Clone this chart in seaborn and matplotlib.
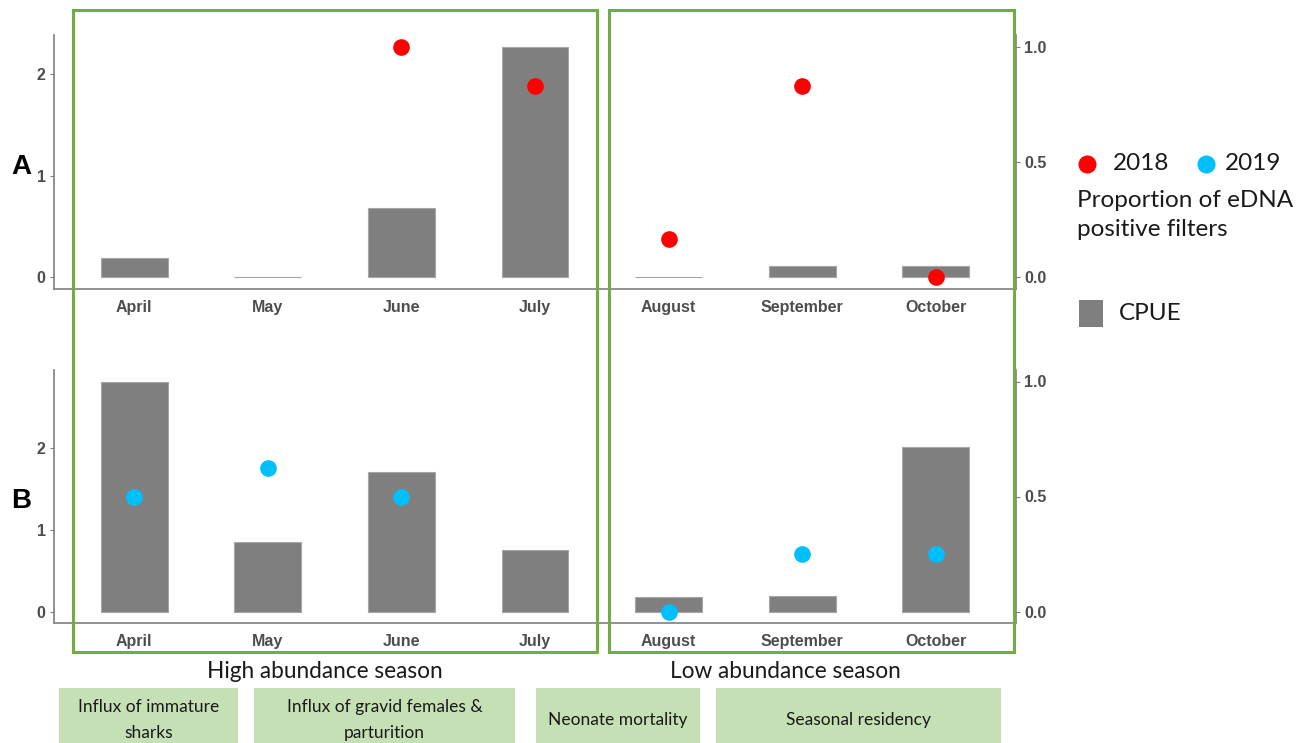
import matplotlib
matplotlib.use("Agg")
import matplotlib.pyplot as plt
from matplotlib.patches import Rectangle
from matplotlib.lines import Line2D
import numpy as np
import pandas as pd
import seaborn as sns

months = ["April", "May", "June", "July", "August", "September", "October"]
cpue_2018 = [0.19, 0.0, 0.68, 2.27, 0.0, 0.11, 0.11]
edna_2018 = [np.nan, np.nan, 1.0, 0.83, 0.167, 0.83, 0.0]
cpue_2019 = [2.82, 0.85, 1.71, 0.76, 0.18, 0.19, 2.02]
edna_2019 = [0.5, 0.625, 0.5, np.nan, 0.0, 0.25, 0.25]

seasons = ["High abundance season", "Low abundance season"]
phases = ["Influx of immature\nsharks", "Influx of gravid females &\nparturition",
          "Neonate mortality", "Seasonal residency"]

W, H = 1309, 743
BAR = "#7f7f7f"
AXC = "#7f7f7f"
TXT = "#4d4d4d"
GREEN = "#70ad47"
LIGHT = "#c5e0b4"
RED = "#ff0000"
BLUE = "#00bfff"
FONT = "Lato"

sns.set_style("white")
plt.rcParams["font.family"] = ["Liberation Sans", "DejaVu Sans"]


def fx(px):
    return px / W


def fy(py):
    return 1 - py / H


def panel(top, bottom, cpue, edna, dot_color, letter):
    ax = fig.add_axes([fx(54), fy(bottom), fx(1016) - fx(54), fy(top) - fy(bottom)])
    df = pd.DataFrame({"month": months, "cpue": cpue, "edna": edna})
    k = max(cpue)
    sns.barplot(data=df, x="month", y="cpue", order=months, color=BAR,
                saturation=1, width=0.5, edgecolor="#a6a6a6", linewidth=0.8, ax=ax)
    ax.set_ylim(-0.05 * k, 1.05 * k)
    ax2 = ax.twinx()
    sns.stripplot(data=df.dropna(), x="month", y="edna", order=months, jitter=False,
                  color=dot_color, size=12, linewidth=0, ax=ax2, zorder=5)
    ax2.set_ylim(-0.05, 1.05)
    ax.set_xlim(-0.6, 6.6)
    ax2.set_xlim(-0.6, 6.6)
    ax.set_yticks([0, 1, 2])
    ax2.set_yticks([0, 0.5, 1.0])
    ax2.set_yticklabels(["0.0", "0.5", "1.0"])
    for a in (ax, ax2):
        a.set_xlabel("")
        a.set_ylabel("")
        a.spines["top"].set_visible(False)
        for s in ("left", "right", "bottom"):
            a.spines[s].set_color(AXC)
            a.spines[s].set_linewidth(1.2)
        a.tick_params(axis="both", length=3, width=0.8, color=AXC, labelcolor=TXT,
                      labelsize=11.5, pad=3)
        for lab in a.get_xticklabels() + a.get_yticklabels():
            lab.set_fontweight("bold")
    ax2.spines["left"].set_visible(False)
    ax2.spines["bottom"].set_visible(False)
    ax.spines["right"].set_visible(False)
    ax.tick_params(axis="x", pad=5)
    fig.text(fx(21), fy((top + bottom) / 2 + 5), letter, fontsize=20,
             fontweight="bold", ha="center", va="center", color="black")
    return ax


fig = plt.figure(figsize=(W / 100, H / 100), dpi=100)

panel(35, 289, cpue_2018, edna_2018, RED, "A")
panel(370, 623, cpue_2019, edna_2019, BLUE, "B")

# season frames
for x0, x1 in [(73, 597), (609, 1014)]:
    fig.add_artist(Rectangle((fx(x0), fy(652)), fx(x1) - fx(x0), fy(10) - fy(652),
                             transform=fig.transFigure, fill=False,
                             edgecolor=GREEN, linewidth=2.2, zorder=10))

# season titles
for label, cx in zip(seasons, [325, 785]):
    fig.text(fx(cx), fy(672), label, family=FONT, fontsize=16.3,
             ha="center", va="center", color="#1a1a1a")

# phase boxes
for label, (x0, x1) in zip(phases, [(59, 238), (254, 515), (536, 700), (716, 1001)]):
    fig.add_artist(Rectangle((fx(x0), fy(760)), fx(x1) - fx(x0), fy(688) - fy(760),
                             transform=fig.transFigure, facecolor=LIGHT,
                             edgecolor="none", zorder=1))
    fig.text(fx((x0 + x1) / 2), fy(720), label, family=FONT, fontsize=12.5,
             ha="center", va="center", color="#1a1a1a", linespacing=1.75)

# legend
fig.add_artist(Line2D([fx(1087)], [fy(164)], marker="o", color=RED, markersize=12,
                      linestyle="none", transform=fig.transFigure))
fig.add_artist(Line2D([fx(1206)], [fy(164)], marker="o", color=BLUE, markersize=12,
                      linestyle="none", transform=fig.transFigure))
fig.text(fx(1113), fy(164), "2018", family=FONT, fontsize=17.5, va="center", color="#1a1a1a")
fig.text(fx(1225), fy(164), "2019", family=FONT, fontsize=17.5, va="center", color="#1a1a1a")
fig.text(fx(1077), fy(215), "Proportion of eDNA\npositive filters", family=FONT,
         fontsize=17.5, va="center", color="#1a1a1a", linespacing=1.45)
fig.add_artist(Rectangle((fx(1079), fy(327)), fx(1103) - fx(1079), fy(300) - fy(327),
                         transform=fig.transFigure, facecolor=BAR, edgecolor="none"))
fig.text(fx(1119), fy(314), "CPUE", family=FONT, fontsize=17.5, va="center", color="#1a1a1a")

fig.savefig("out.png", dpi=100)
